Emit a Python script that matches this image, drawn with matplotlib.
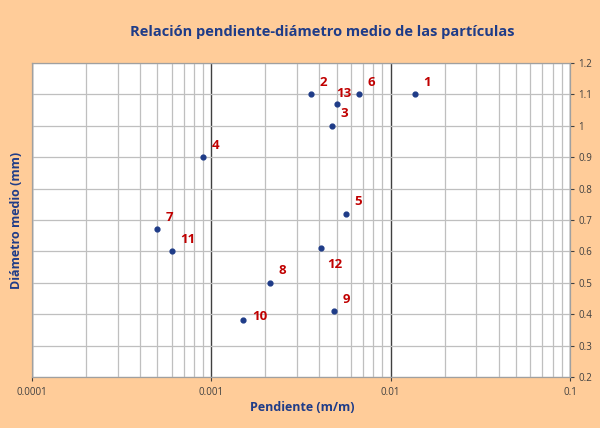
import numpy as np
import matplotlib
matplotlib.use("Agg")
import matplotlib.pyplot as plt
from matplotlib.ticker import LogLocator, NullFormatter

plt.rcParams['font.family'] = ['Open Sans', 'DejaVu Sans']

labels = ['1', '2', '3', '4', '5', '6', '7', '8', '9', '10', '11', '12', '13']
pendiente = [0.0137, 0.0036, 0.00473, 0.0009, 0.0056, 0.0067, 0.0005,
             0.00212, 0.00482, 0.0015, 0.0006, 0.0041, 0.005]
diametro = [1.10, 1.10, 1.00, 0.90, 0.72, 1.10, 0.67,
            0.50, 0.41, 0.38, 0.60, 0.61, 1.07]
# label offsets in points
offsets = {'12': (4, -14), '10': (7, 0), '13': (0, 5)}

bg = '#FFCC99'
navy = '#1F3C88'

fig = plt.figure(figsize=(6, 4.28), dpi=100, facecolor=bg)
ax = fig.add_axes([0.0533, 0.1192, 0.8967, 0.7336])
ax.set_facecolor('white')

ax.set_xscale('log')
ax.set_xlim(0.0001, 0.1)
ax.set_ylim(0.2, 1.2)

# grid
ax.xaxis.set_minor_locator(LogLocator(base=10, subs=np.arange(2, 10)))
ax.xaxis.set_minor_formatter(NullFormatter())
ax.grid(which='minor', axis='x', color='#BFBFBF', lw=0.9)
ax.grid(which='major', axis='x', color='#404040', lw=1.0)
ax.set_yticks(np.arange(0.2, 1.21, 0.1))
ax.grid(which='major', axis='y', color='#BFBFBF', lw=0.9)
ax.set_axisbelow(True)

ax.yaxis.tick_right()
ax.set_yticklabels(['0.2', '0.3', '0.4', '0.5', '0.6', '0.7', '0.8', '0.9', '1', '1.1', '1.2'])
ax.set_xticks([0.0001, 0.001, 0.01, 0.1])
ax.set_xticklabels(['0.0001', '0.001', '0.01', '0.1'])
ax.tick_params(axis='both', which='major', labelsize=7, colors='#404040', length=3, width=0.8)
ax.tick_params(axis='x', which='minor', length=0)
ax.tick_params(axis='x', which='major', pad=4)
ax.tick_params(axis='y', pad=3)

for s in ax.spines.values():
    s.set_color('#A0A0A0')
    s.set_linewidth(0.9)

ax.scatter(pendiente, diametro, s=12, color='#1F3C88', zorder=3)
for lab, x, y in zip(labels, pendiente, diametro):
    off = offsets.get(lab, (6, 6))
    ax.annotate(lab, (x, y), xytext=off, textcoords='offset points',
                color='#C00000', fontsize=9.5, fontweight='bold')

fig.text(0.537, 0.925, 'Relación pendiente-diámetro medio de las partículas',
         ha='center', va='center', color=navy, fontsize=10.5, fontweight='bold')
fig.text(0.503, 0.047, 'Pendiente (m/m)', ha='center', va='center',
         color=navy, fontsize=9, fontweight='bold')
fig.text(0.027, 0.486, 'Diámetro medio (mm)', ha='center', va='center',
         rotation=90, color=navy, fontsize=9, fontweight='bold')

fig.savefig('out.png', dpi=100, facecolor=bg)
